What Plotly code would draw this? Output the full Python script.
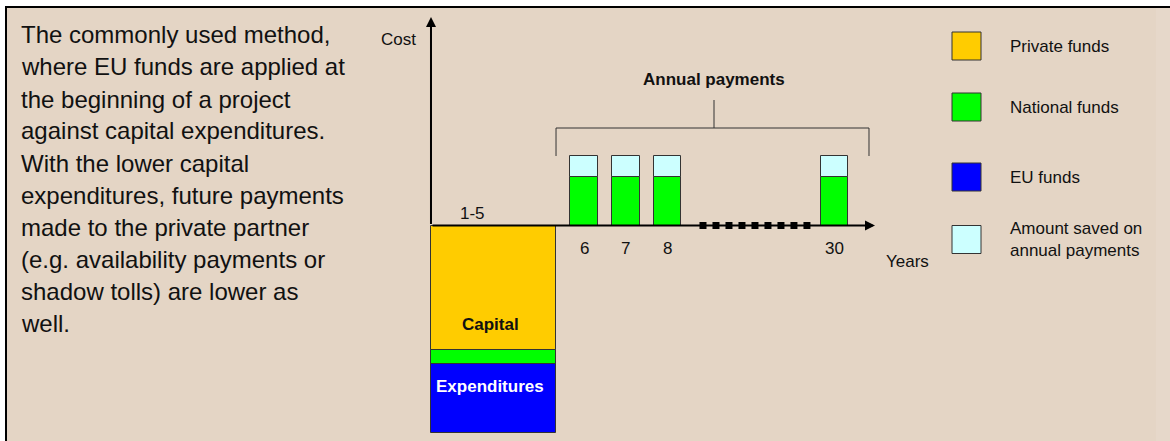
import numpy as np
import plotly.graph_objects as go

# ---------------- data ----------------
period_labels = ["1-5", "6", "7", "8", "30"]
private_funds = [12.45]          # below axis (capital expenditure)
national_funds_capital = [1.4]
eu_funds = [6.9]
national_funds_annual = [4.85, 4.85, 4.85, 4.85]
amount_saved = [2.1, 2.1, 2.1, 2.1]

legend_names = ["Private funds", "National funds", "EU funds", "Amount saved on<br>annual payments"]
description_lines = [
    "The commonly used method,",
    "where EU funds are applied at",
    "the beginning of a project",
    "against capital expenditures.",
    "With the lower capital",
    "expenditures, future payments",
    "made to the private partner",
    "(e.g. availability payments or",
    "shadow tolls) are lower as",
    "well.",
]

# ---------------- layout / styling ----------------
W, H = 1170, 441
PX_PER_X = 41.75
X0 = 6 - 584 / PX_PER_X
X1 = X0 + W / PX_PER_X
PX_PER_Y = 10.0
Y1 = 22.55
Y0 = Y1 - H / PX_PER_Y

C_PRIVATE = "#FFCC00"
C_NATIONAL = "#00FF00"
C_EU = "#0000FF"
C_SAVED = "#CCFFFF"
C_BG = "#E4D5C5"
C_BG2 = "#E6D8CA"
C_EDGE = "#333333"
FONT = "Liberation Sans, Arial, sans-serif"

cap_pos = 3.832
cap_width = 3.0
annual_pos = [6, 7, 8, 12]
annual_width = 0.67
label_pos = [3.341] + annual_pos

edge = dict(color=C_EDGE, width=1)

fig = go.Figure()
fig.add_trace(go.Bar(x=[cap_pos], y=[-private_funds[0]], width=[cap_width],
                     marker=dict(color=C_PRIVATE, line=edge), name="Private funds"))
fig.add_trace(go.Bar(x=[cap_pos] + annual_pos,
                     y=[-national_funds_capital[0]] + national_funds_annual,
                     width=[cap_width] + [annual_width] * 4,
                     marker=dict(color=C_NATIONAL, line=edge), name="National funds"))
fig.add_trace(go.Bar(x=[cap_pos], y=[-eu_funds[0]], width=[cap_width],
                     marker=dict(color=C_EU, line=edge), name="EU funds"))
fig.add_trace(go.Bar(x=annual_pos, y=amount_saved, width=[annual_width] * 4,
                     marker=dict(color=C_SAVED, line=edge), name="Amount saved"))

# dotted continuation on the axis
dots_x = np.linspace(8.85, 11.34, 9)
fig.add_trace(go.Scatter(x=dots_x, y=[0] * len(dots_x), mode="markers",
                         marker=dict(symbol="square", size=7, color="black"),
                         hoverinfo="skip"))

def px(xp):
    return xp / W

def py(yp):
    return 1 - yp / H

shapes = []
# page background with border
shapes.append(dict(type="rect", xref="paper", yref="paper",
                   x0=px(6), x1=px(W + 60), y0=py(7), y1=py(H + 60),
                   fillcolor=C_BG, line=dict(color="black", width=2), layer="below"))
shapes.append(dict(type="rect", xref="paper", yref="paper",
                   x0=px(1156), x1=px(W + 60), y0=py(8), y1=py(H + 60),
                   fillcolor=C_BG2, line=dict(width=0), layer="below"))
# bracket over annual payments
shapes.append(dict(type="path", xref="x", yref="y",
                   path="M 5.33,6.95 L 5.33,9.75 L 12.826,9.75 L 12.826,6.95 M 9.114,9.75 L 9.114,12.55",
                   line=dict(color=C_EDGE, width=1)))

annotations = []
# axes with arrows
annotations.append(dict(x=2.335, y=20.85, ax=2.335, ay=0, xref="x", yref="y", axref="x", ayref="y",
                        text="", showarrow=True, arrowhead=2, arrowsize=1, arrowwidth=2, arrowcolor="black"))
annotations.append(dict(x=12.97, y=0, ax=2.335, ay=0, xref="x", yref="y", axref="x", ayref="y",
                        text="", showarrow=True, arrowhead=2, arrowsize=1, arrowwidth=2, arrowcolor="black"))

# period labels
for i, (lab, xp) in enumerate(zip(period_labels, label_pos)):
    annotations.append(dict(x=xp, y=1.25 if i == 0 else -2.25, xref="x", yref="y",
                            text=lab, showarrow=False, font=dict(family=FONT, size=17, color="#111")))

annotations.append(dict(x=13.737, y=-3.55, xref="x", yref="y", text="Years", showarrow=False,
                        font=dict(family=FONT, size=17, color="#111")))
annotations.append(dict(x=1.545, y=18.65, xref="x", yref="y", text="Cost", showarrow=False,
                        font=dict(family=FONT, size=17, color="#111")))
annotations.append(dict(x=9.114, y=14.65, xref="x", yref="y", text="<b>Annual payments</b>", showarrow=False,
                        font=dict(family=FONT, size=17, color="#111")))
annotations.append(dict(x=3.75, y=-9.85, xref="x", yref="y", text="<b>Capital</b>", showarrow=False,
                        font=dict(family=FONT, size=17, color="#111")))
annotations.append(dict(x=3.75, y=-16.05, xref="x", yref="y", text="<b>Expenditures</b>", showarrow=False,
                        font=dict(family=FONT, size=17, color="white")))

# description text
for i, line in enumerate(description_lines):
    annotations.append(dict(x=px(19), y=py(35 + 32 * i), xref="paper", yref="paper",
                            xanchor="left", yanchor="middle", text=line, showarrow=False,
                            font=dict(family=FONT, size=24, color="#111")))

# custom legend
legend_colors = [C_PRIVATE, C_NATIONAL, C_EU, C_SAVED]
legend_centers = [46, 107, 177, 239.5]
for name, col, cy in zip(legend_names, legend_colors, legend_centers):
    shapes.append(dict(type="rect", xref="paper", yref="paper",
                       x0=px(952), x1=px(981), y0=py(cy - 14), y1=py(cy + 14),
                       fillcolor=col, line=dict(color=C_EDGE, width=1)))
    annotations.append(dict(x=px(1008), y=py(cy), xref="paper", yref="paper",
                            xanchor="left", yanchor="middle", align="left", text=name,
                            showarrow=False, font=dict(family=FONT, size=17, color="#111")))

fig.update_layout(
    width=W, height=H,
    margin=dict(l=0, r=0, t=0, b=0),
    paper_bgcolor="white",
    plot_bgcolor="rgba(0,0,0,0)",
    barmode="relative",
    bargap=0,
    showlegend=False,
    hovermode=False,
    xaxis=dict(range=[X0, X1], visible=False, fixedrange=True),
    yaxis=dict(range=[Y0, Y1], visible=False, fixedrange=True),
    shapes=shapes,
    annotations=annotations,
)

fig.write_html("out.html", config={"displayModeBar": False},
               post_script="document.body.style.margin='0px';")
